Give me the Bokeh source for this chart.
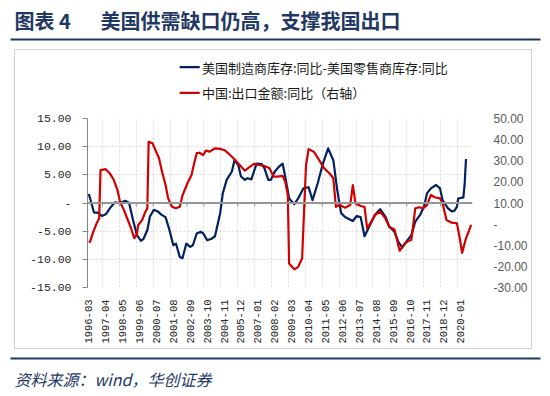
import math
from bokeh.plotting import figure
from bokeh.layouts import column
from bokeh.models import (Range1d, LinearAxis, FixedTicker, CustomJSTickFormatter, Span,
                          Label, BoxAnnotation)
from bokeh.embed import file_html
from bokeh.resources import INLINE

# ---------------- data ----------------
x_tick_labels = ["1996-03", "1997-04", "1998-05", "1999-06", "2000-07", "2001-08", "2002-09",
                 "2003-10", "2004-11", "2005-12", "2007-01", "2008-02", "2009-03", "2010-04",
                 "2011-05", "2012-06", "2013-07", "2014-08", "2015-09", "2016-10", "2017-11",
                 "2018-12", "2020-01"]

left_ticks = [-15, -10, -5, 0, 5, 10, 15]
right_ticks = [-30, -20, -10, 0, 10, 20, 30, 40, 50]

title_no = "图表 4"
title_text = "美国供需缺口仍高，支撑我国出口"
source_text = "资料来源：wind，华创证券"

blue_name = "美国制造商库存:同比-美国零售商库存:同比"
blue_dates = ["1996-03", "1996-04", "1996-07", "1996-10", "1997-01", "1997-04", "1997-08", "1997-11", "1998-03", "1998-07",
              "1998-10", "1999-01", "1999-04", "1999-07", "1999-09", "1999-12", "2000-02", "2000-05", "2000-08", "2000-11",
              "2001-02", "2001-05", "2001-08", "2001-10", "2002-01", "2002-03", "2002-06", "2002-09", "2002-11", "2003-02",
              "2003-05", "2003-07", "2003-10", "2004-01", "2004-04", "2004-08", "2004-10", "2005-01", "2005-05", "2005-07",
              "2005-10", "2005-12", "2006-03", "2006-05", "2006-08", "2006-10", "2006-12", "2007-04", "2007-06", "2007-09",
              "2007-11", "2008-02", "2008-05", "2008-08", "2008-10", "2009-01", "2009-05", "2009-08", "2009-12", "2010-04",
              "2010-07", "2010-11", "2011-03", "2011-07", "2011-11", "2012-02", "2012-05", "2012-08", "2013-02", "2013-05",
              "2013-08", "2013-11", "2014-02", "2014-07", "2014-11", "2015-03", "2015-06", "2015-10", "2016-01", "2016-04",
              "2016-07", "2016-11", "2017-02", "2017-06", "2017-09", "2017-11", "2018-02", "2018-06", "2018-09", "2018-11",
              "2019-03", "2019-06", "2019-08", "2019-10", "2019-11", "2020-03", "2020-04", "2020-05"]
blue_values = [1.6, 0.8, -1.7, -1.7, -2.3, -2.0, -0.7, 0.1, 0.0, 0.4,
               0.0, -3.0, -5.7, -6.7, -6.4, -4.8, -2.4, -1.2, -1.5, -2.1,
               -2.5, -4.8, -7.5, -7.2, -9.6, -9.8, -7.2, -7.8, -7.5, -5.4,
               -5.1, -5.4, -6.6, -6.4, -5.9, -1.8, 1.7, 4.1, 5.6, 7.6,
               6.7, 4.7, 4.1, 4.4, 4.2, 5.6, 7.0, 6.9, 6.2, 4.1,
               4.1, 5.6, 6.4, 7.0, 4.7, 0.8, -0.2, 0.8, 2.6, 2.8,
               0.5, 3.5, 7.0, 9.7, 7.6, 2.3, -1.8, -2.5, -3.2, -2.3,
               -2.5, -5.9, -4.5, -2.1, -1.1, -2.4, -4.2, -5.1, -6.9, -7.9,
               -6.9, -5.7, -3.3, -2.0, -0.4, 1.7, 2.6, 3.2, 2.6, 0.5,
               -0.9, -1.5, -1.4, -0.7, 0.8, 1.0, 3.5, 7.8]

red_name = "中国:出口金额:同比（右轴）"
red_dates = ["1996-03", "1996-04", "1996-06", "1996-09", "1996-11", "1996-12", "1997-04", "1997-07", "1997-10", "1998-01",
             "1998-03", "1998-06", "1998-08", "1998-11", "1999-02", "1999-04", "1999-05", "1999-08", "1999-10", "1999-12",
             "2000-01", "2000-04", "2000-06", "2000-09", "2000-11", "2001-02", "2001-04", "2001-07", "2001-10", "2002-01",
             "2002-03", "2002-07", "2002-10", "2002-12", "2003-02", "2003-04", "2003-07", "2003-09", "2003-12", "2004-04",
             "2004-08", "2004-11", "2005-03", "2005-07", "2005-11", "2006-03", "2006-07", "2006-10", "2007-02", "2007-06",
             "2007-10", "2008-01", "2008-04", "2008-08", "2008-10", "2008-12", "2009-01", "2009-05", "2009-08", "2009-11",
             "2010-02", "2010-04", "2010-08", "2010-12", "2011-04", "2011-08", "2011-11", "2012-01", "2012-04", "2012-08",
             "2012-12", "2013-02", "2013-04", "2013-08", "2013-11", "2014-01", "2014-05", "2014-07", "2014-11", "2015-03",
             "2015-06", "2015-10", "2016-02", "2016-06", "2016-09", "2016-11", "2017-02", "2017-05", "2017-08", "2017-11",
             "2018-02", "2018-05", "2018-09", "2018-11", "2019-02", "2019-06", "2019-10", "2019-12", "2020-02", "2020-05",
             "2020-09"]
red_values = [-8.6, -8.3, -4.4, 0.4, 2.7, 25.6, 26.0, 24.1, 21.2, 16.2,
              10.6, 6.7, 3.5, -1.2, -6.7, -4.7, -0.4, 1.9, 5.1, 7.5,
              39.0, 38.3, 35.4, 31.2, 25.6, 18.5, 12.2, 8.2, 7.5, 8.2,
              13.5, 19.6, 23.3, 28.8, 33.6, 33.8, 32.7, 34.8, 34.3, 35.9,
              35.6, 35.1, 33.1, 30.7, 28.0, 25.3, 27.2, 28.5, 28.0, 27.5,
              26.4, 22.5, 22.5, 22.8, 20.1, 13.8, -18.6, -21.4, -20.2, -16.2,
              28.0, 35.5, 34.3, 30.4, 26.4, 24.1, 21.7, 8.2, 9.0, 7.8,
              9.0, 18.5, 9.9, 8.6, 8.2, -2.0, 1.9, 4.3, 5.9, 2.7,
              -1.2, -2.5, -12.6, -9.1, -7.9, -7.5, 7.5, 8.0, 7.5, 9.0,
              13.8, 12.7, 12.2, 9.9, 1.9, 0.7, 0.4, -6.0, -13.6, -6.7,
              -0.4]


def month_index(s):
    y, m = s.split("-")
    return (int(y) - 1996) * 12 + (int(m) - 3)


blue_x = [month_index(d) for d in blue_dates]
red_x = [month_index(d) for d in red_dates]
x_tick_pos = [month_index(d) for d in x_tick_labels]
grid_x = [t + 10.5 for t in x_tick_pos]

NAVY = "#1f3864"
BLUE = "#002060"
RED = "#d00000"
MONO = "Liberation Mono"
CJK = "Noto Sans CJK SC"


def blank_fig(w, h, fill="white"):
    f = figure(width=w, height=h, x_range=Range1d(0, w), y_range=Range1d(h, 0),
               output_backend="svg", toolbar_location=None, title=None,
               min_border=0, min_border_left=0, min_border_right=0,
               min_border_top=0, min_border_bottom=0)
    f.axis.visible = False
    f.grid.visible = False
    f.outline_line_color = None
    f.background_fill_color = fill
    f.border_fill_color = fill
    return f


# ---------------- header ----------------
top = blank_fig(548, 49)
top.add_layout(Label(x=14, y=19.5, text=title_no, text_baseline="middle", text_font=CJK,
                     text_font_style="bold", text_font_size="20px", text_color=NAVY))
top.add_layout(Label(x=100, y=19.5, text=title_text, text_baseline="middle", text_font=CJK,
                     text_font_style="bold", text_font_size="20px", text_color=NAVY))
top.add_layout(BoxAnnotation(left=10, right=540, top=38, bottom=40, fill_color=NAVY,
                             fill_alpha=1, line_color=None))

# ---------------- legend strip ----------------
leg = blank_fig(518, 61, fill=None)
legend_rows = [(blue_name, BLUE, 17.7), (red_name, RED, 43.3)]
for name, col, yy in legend_rows:
    leg.line(x=[124, 151], y=[yy, yy], line_color=col, line_width=2.2)
    leg.add_layout(Label(x=154, y=yy, text=name, text_baseline="middle", text_font=CJK,
                         text_font_size="13px", text_color="#1a1a1a"))

# ---------------- main chart ----------------
p = figure(width=518, height=239, x_range=Range1d(-1, 295), y_range=Range1d(-15, 15),
           output_backend="svg", toolbar_location=None, title=None,
           min_border_left=73, min_border_right=60, min_border_top=8, min_border_bottom=62)
p.outline_line_color = None
p.background_fill_color = None
p.border_fill_color = None
p.extra_y_ranges = {"right": Range1d(-30, 50)}

ya = p.yaxis[0]
ya.ticker = FixedTicker(ticks=left_ticks)
ya.formatter = CustomJSTickFormatter(code="return tick == 0 ? '-' : tick.toFixed(2);")
ya.axis_line_color = "#868686"
ya.major_tick_line_color = "#868686"
ya.major_tick_out = 5
ya.major_tick_in = 0
ya.minor_tick_line_color = None
ya.major_label_standoff = 11
ya.major_label_text_font = MONO
ya.major_label_text_font_size = "11.5px"
ya.major_label_text_color = "#262626"

ry = LinearAxis(y_range_name="right", ticker=FixedTicker(ticks=right_ticks),
                formatter=CustomJSTickFormatter(code="return tick == 0 ? '-' : tick.toFixed(2);"))
ry.axis_line_color = None
ry.major_tick_line_color = None
ry.minor_tick_line_color = None
ry.major_label_standoff = 15
ry.major_label_text_font = "Liberation Sans"
ry.major_label_text_font_size = "12px"
ry.major_label_text_color = "#595959"
p.add_layout(ry, "right")

xa = p.xaxis[0]
xa.ticker = FixedTicker(ticks=x_tick_pos)
xa.major_label_overrides = {t: lab for t, lab in zip(x_tick_pos, x_tick_labels)}
xa.major_label_orientation = math.pi / 2
xa.axis_line_color = None
xa.major_tick_line_color = None
xa.minor_tick_line_color = None
xa.major_label_standoff = 6
xa.major_label_text_font = MONO
xa.major_label_text_font_size = "10.5px"
xa.major_label_text_color = "#262626"

p.ygrid[0].ticker = FixedTicker(ticks=left_ticks)
p.ygrid[0].grid_line_color = "#d9d9d9"
p.ygrid[0].grid_line_dash = "2 2"
p.xgrid[0].ticker = FixedTicker(ticks=grid_x)
p.xgrid[0].grid_line_color = "#d9d9d9"
p.xgrid[0].grid_line_dash = "2 2"

p.add_layout(Span(location=0, dimension="width", line_color="#969696", line_width=2))
p.segment(x0=grid_x, y0=[0] * len(grid_x), x1=grid_x, y1=[-0.6] * len(grid_x),
          line_color="#969696", line_width=1)

p.line(blue_x, blue_values, line_color=BLUE, line_width=2.2, line_join="round")
p.line(red_x, red_values, y_range_name="right", line_color=RED, line_width=2.2, line_join="round")

# ---------------- footer ----------------
bot = blank_fig(548, 45)
bot.add_layout(BoxAnnotation(left=10, right=540, top=8, bottom=10, fill_color=NAVY,
                             fill_alpha=1, line_color=None))
bot.add_layout(Label(x=14, y=29.5, text=source_text, text_baseline="middle", text_font=CJK,
                     text_font_style="italic", text_font_size="16px", text_color=NAVY))

box = column(leg, p, spacing=0, margin=(0, 0, 0, 14),
             styles={"outline": "1px solid #d0d0d0", "outline-offset": "-1px",
                     "box-shadow": "inset 0 0 0 1px #d0d0d0"})
page = column(top, box, bot, spacing=0)

open("out.html", "w").write(file_html(page, INLINE))
